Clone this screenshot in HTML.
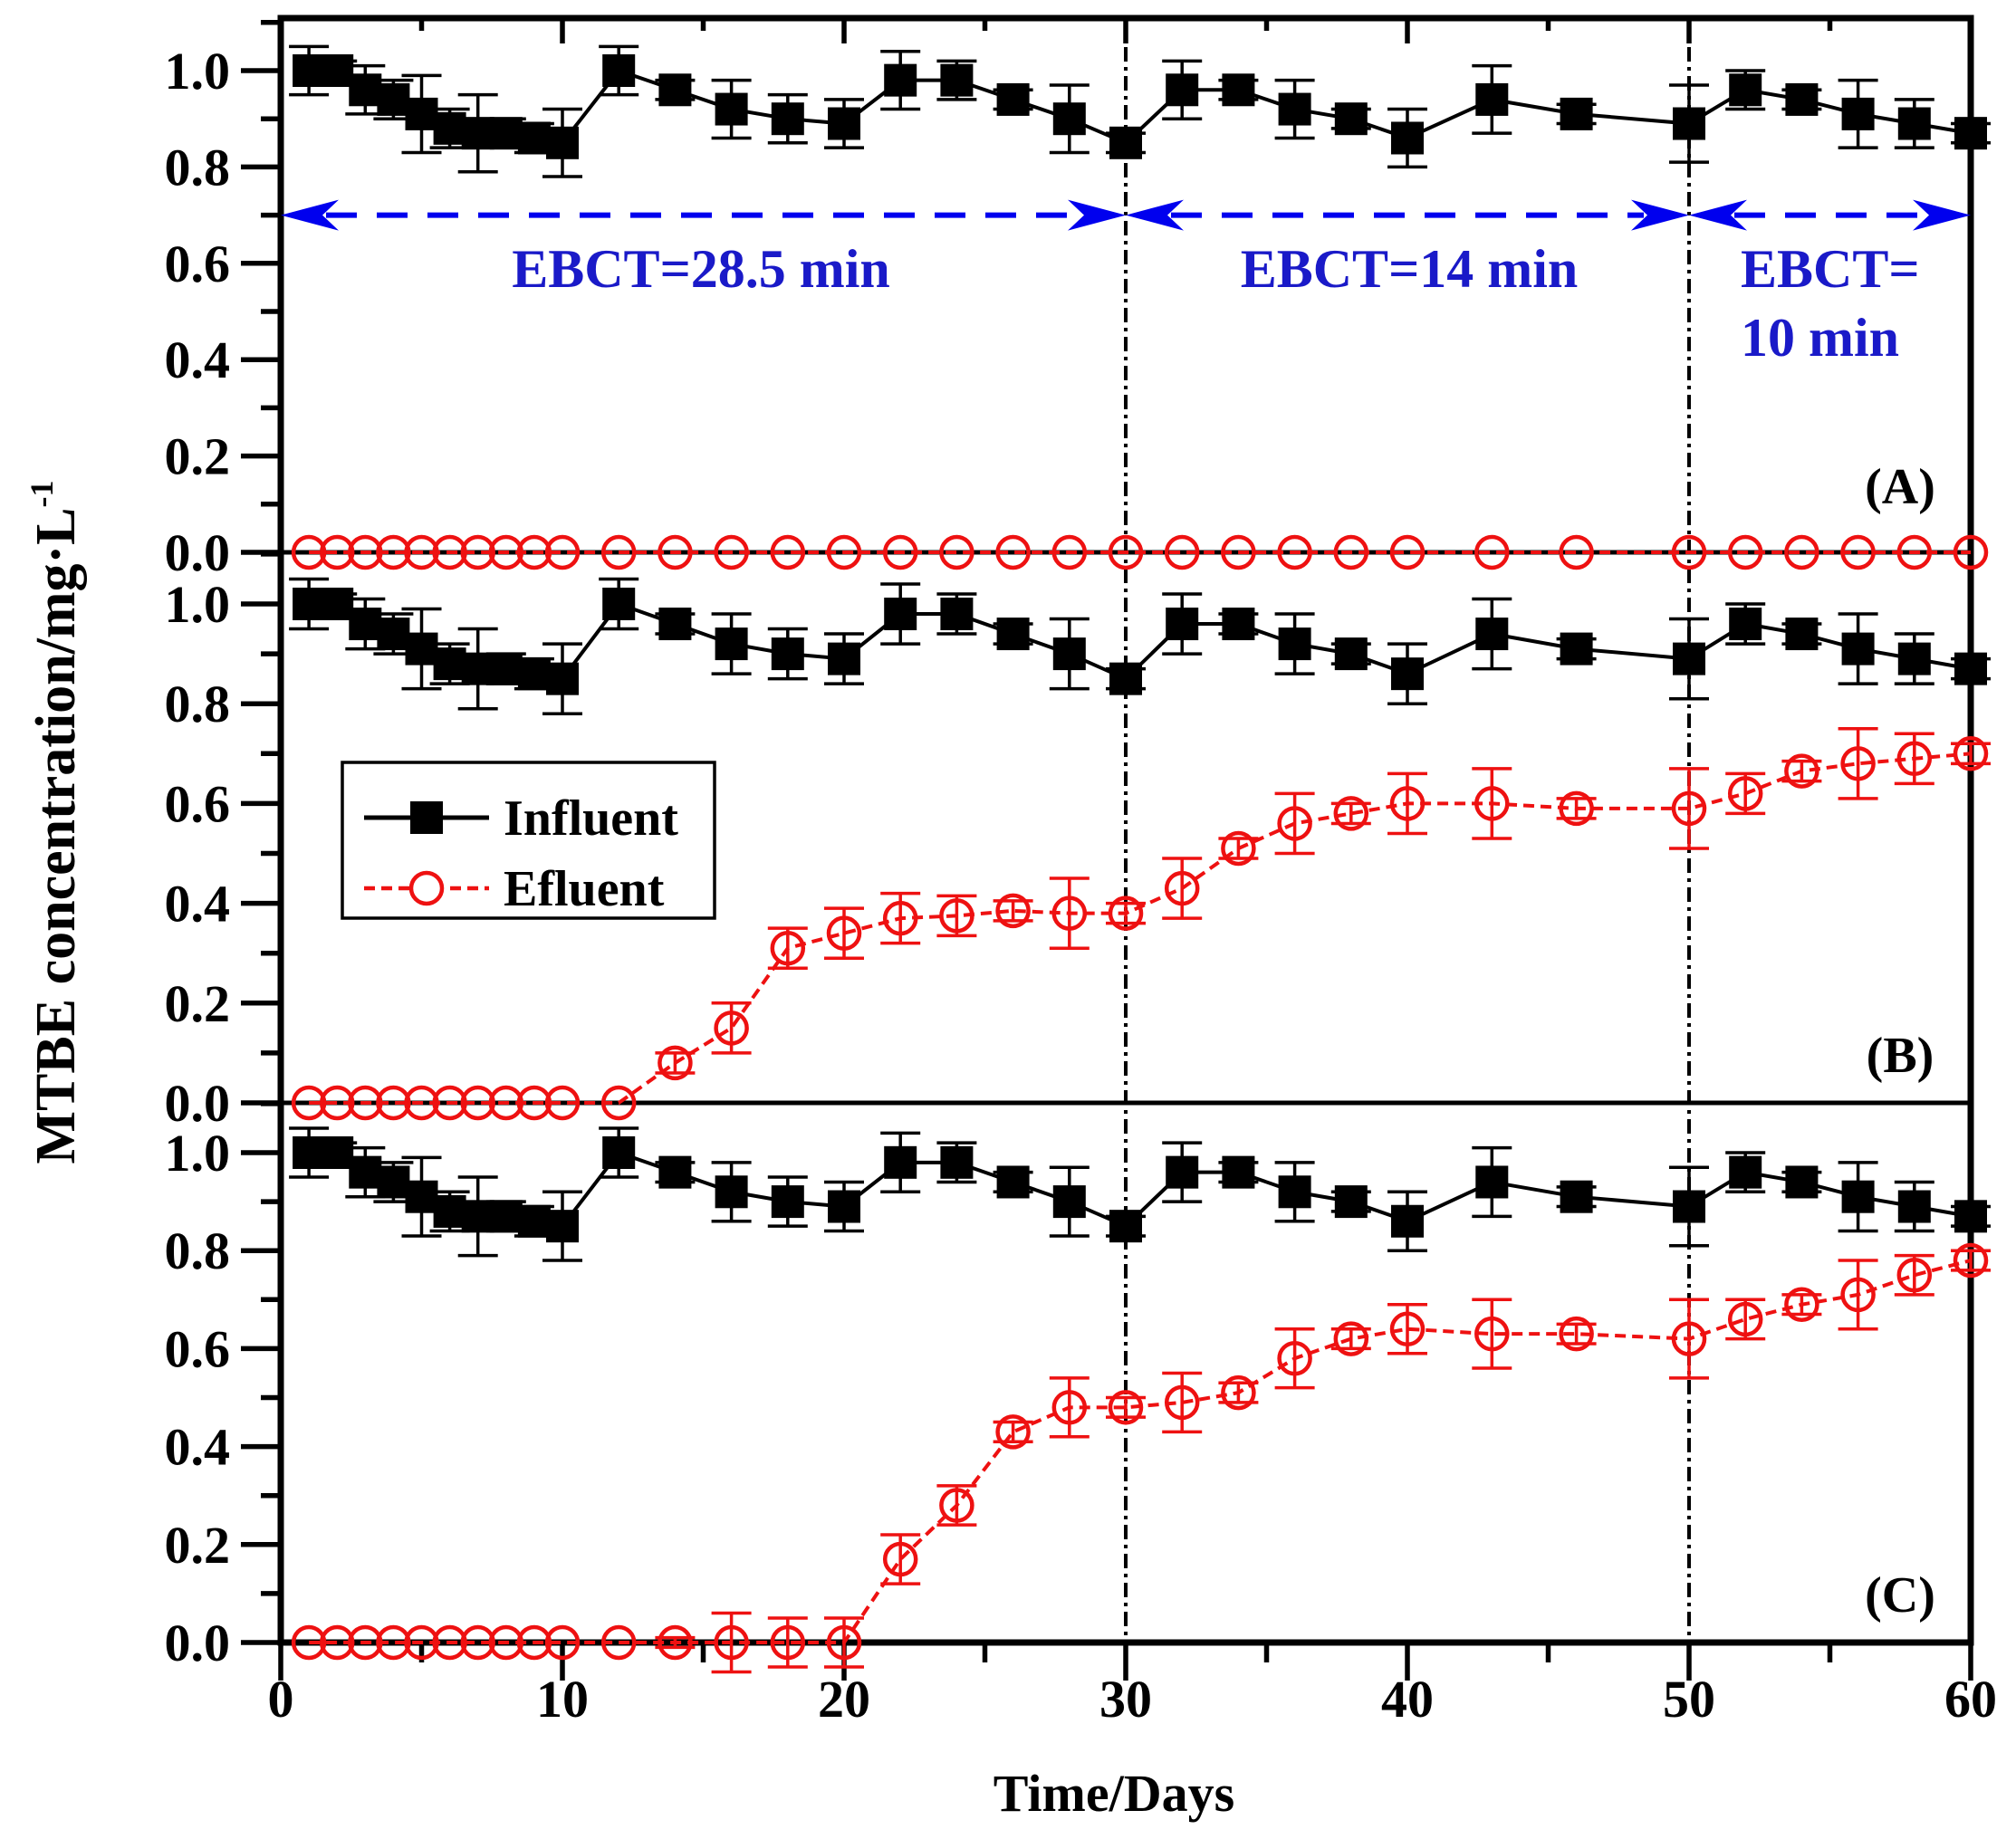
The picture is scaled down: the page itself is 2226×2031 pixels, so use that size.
<!DOCTYPE html>
<html><head><meta charset="utf-8">
<style>
html,body{margin:0;padding:0;background:#fff;}
svg{display:block;font-family:"Liberation Serif",serif;font-weight:bold;}
</style></head>
<body>
<svg id="chart" width="2226" height="2031" viewBox="0 0 2226 2031" xmlns="http://www.w3.org/2000/svg">
<rect width="2226" height="2031" fill="#fff"/>
<g id="layer"></g>
<text x="1230" y="2000" font-size="58" text-anchor="middle">Time/Days</text>
<text transform="translate(82,908) rotate(-90)" font-size="62" text-anchor="middle">MTBE concentration/mg·L<tspan dy="-24" font-size="36">-1</tspan></text>
</svg>
<script>
const days = [1,2,3,4,5,6,7,8,9,10,12,14,16,18,20,22,24,26,28,30,32,34,36,38,40,43,46,50,52,54,56,58,60];
const influent = [1.0,1.0,0.96,0.94,0.91,0.88,0.87,0.87,0.86,0.85,1.0,0.96,0.92,0.90,0.89,0.98,0.98,0.94,0.90,0.85,0.96,0.96,0.92,0.90,0.86,0.94,0.91,0.89,0.96,0.94,0.91,0.89,0.87];
const influentErr = [0.05,0.02,0.05,0.04,0.08,0.04,0.08,0.03,0.03,0.07,0.05,0.02,0.06,0.05,0.05,0.06,0.04,0.02,0.07,0.02,0.06,0.02,0.06,0.02,0.06,0.07,0.02,0.08,0.04,0.02,0.07,0.05,0.02];
const effluentA = [0,0,0,0,0,0,0,0,0,0,0,0,0,0,0,0,0,0,0,0,0,0,0,0,0,0,0,0,0,0,0,0,0];
const effluentAErr = [0,0,0,0,0,0,0,0,0,0,0,0,0,0,0,0,0,0,0,0,0,0,0,0,0,0,0,0,0,0,0,0,0];
const effluentB = [0,0,0,0,0,0,0,0,0,0,0,0.08,0.15,0.31,0.34,0.37,0.375,0.385,0.38,0.38,0.43,0.51,0.56,0.58,0.60,0.60,0.59,0.59,0.62,0.665,0.68,0.69,0.70];
const effluentBErr = [0,0,0,0,0,0,0,0,0,0,0,0.02,0.05,0.04,0.05,0.05,0.04,0.02,0.07,0.02,0.06,0.02,0.06,0.02,0.06,0.07,0.02,0.08,0.04,0.02,0.07,0.05,0.02];
const effluentC = [0,0,0,0,0,0,0,0,0,0,0,0,0,0,0,0.17,0.28,0.43,0.48,0.48,0.49,0.51,0.58,0.62,0.64,0.63,0.63,0.62,0.66,0.69,0.71,0.75,0.78];
const effluentCErr = [0,0,0,0,0,0,0,0,0,0,0,0.01,0.06,0.05,0.05,0.05,0.04,0.02,0.06,0.02,0.06,0.02,0.06,0.02,0.05,0.07,0.02,0.08,0.04,0.02,0.07,0.04,0.02];
const yTickLabels = ["0.0","0.2","0.4","0.6","0.8","1.0"];
const xTickLabels = ["0","10","20","30","40","50","60"];
const phaseBoundaries = [30,50];

const NS="http://www.w3.org/2000/svg";
const layer=document.getElementById('layer');
function mk(tag,attrs,parent){const e=document.createElementNS(NS,tag);for(const k in attrs)e.setAttribute(k,attrs[k]);(parent||layer).appendChild(e);return e;}
const X0=310,X1=2176;
function xs(d){return X0+(X1-X0)*d/60;}
const panels=[
 {id:'a',y0:610,y1:78,eff:effluentA,err:effluentAErr,label:'(A)',ly:556},
 {id:'b',y0:1218,y1:667,eff:effluentB,err:effluentBErr,label:'(B)',ly:1184},
 {id:'c',y0:1814,y1:1273,eff:effluentC,err:effluentCErr,label:'(C)',ly:1780}
];
const TOP=20,BOT=1814;

panels.forEach(p=>{
  const ys=v=>p.y0+(p.y1-p.y0)*v;
  for(let i=0;i<=11;i++){
    const v=i*0.1;
    const t=mk('line',{x1:X0-(i%2?22:44),x2:X0,y1:ys(v),y2:ys(v),stroke:'#000','stroke-width':5.5});
    
    
  }
  yTickLabels.forEach((lab,i)=>{
    const t=mk('text',{x:X0-56,y:ys(i*0.2)+20,'font-size':58,'text-anchor':'end'});
    t.textContent=lab;
    
    
  });
  const bl=mk('line',{x1:X0,x2:X1,y1:p.y0,y2:p.y0,stroke:'#000','stroke-width':5});
  
  
  const lt=mk('text',{x:2098,y:p.ly,'font-size':56,'text-anchor':'middle'});
  lt.textContent=p.label;
  
  
});

const fr=mk('rect',{x:X0,y:TOP,width:X1-X0,height:BOT-TOP,fill:'none',stroke:'#000','stroke-width':7});



for(let d=0;d<=60;d+=5){
  const b=mk('line',{x1:xs(d),x2:xs(d),y1:BOT,y2:BOT+(d%10?22:42),stroke:'#000','stroke-width':5.5});
  
  
  const t=mk('line',{x1:xs(d),x2:xs(d),y1:TOP,y2:TOP+(d%10?14:28),stroke:'#000','stroke-width':5.5});
  
  
}
xTickLabels.forEach(lab=>{
  const t=mk('text',{x:xs(+lab),y:1896,'font-size':58,'text-anchor':'middle'});
  t.textContent=lab;
  
  
});

phaseBoundaries.forEach(d=>{
  const l=mk('line',{x1:xs(d),x2:xs(d),y1:TOP,y2:BOT,stroke:'#000','stroke-width':4,'stroke-dasharray':'16,6,4,6'});
  
  
});

const arrowY=panels[0].y0+(panels[0].y1-panels[0].y0)*0.7;
function head(x,dir){
  const h=mk('path',{d:`M${x},${arrowY} L${x-dir*64},${arrowY-17} L${x-dir*46},${arrowY} L${x-dir*64},${arrowY+17} Z`,fill:'#0000ee'});
  
  
}
[[0,30],[30,50],[50,60]].forEach(([a,b])=>{
  const l=mk('line',{x1:xs(a)+50,x2:xs(b)-50,y1:arrowY,y2:arrowY,stroke:'#0000ee','stroke-width':6,'stroke-dasharray':'34,22'});
  
  
  head(xs(a),-1);head(xs(b),1);
});
function blueText(x,y,s,anchor){
  const t=mk('text',{x:x,y:y,'font-size':60,fill:'#1a1ac8','text-anchor':anchor});
  t.textContent=s;
  
  
}
blueText(774,317,'EBCT=28.5 min','middle');
blueText(1556,317,'EBCT=14 min','middle');
blueText(1922,317,'EBCT=','start');
blueText(1922,393,'10 min','start');

function series(p,vals,errs,color,dash,kind){
  const ys=v=>p.y0+(p.y1-p.y0)*v;
  const g=mk('g',{});
  
  
  const pts=days.map((d,i)=>xs(d)+','+ys(vals[i])).join(' ');
  mk('polyline',{points:pts,fill:'none',stroke:color,'stroke-width':4,'stroke-dasharray':dash},g);
  days.forEach((d,i)=>{
    const e=errs[i]; if(e>0){
      const x=xs(d),ya=ys(vals[i]+e),yb=ys(vals[i]-e);
      mk('path',{d:`M${x},${ya}V${yb}M${x-22},${ya}H${x+22}M${x-22},${yb}H${x+22}`,stroke:color,'stroke-width':3.5,fill:'none'},g);
    }
  });
  days.forEach((d,i)=>{
    let m;
    if(kind==='influent') m=mk('rect',{x:xs(d)-18,y:ys(vals[i])-18,width:36,height:36,fill:'#000'},g);
    else m=mk('circle',{cx:xs(d),cy:ys(vals[i]),r:17,fill:'none',stroke:color,'stroke-width':4.5},g);
    
    
  });
}
panels.forEach(p=>{
  series(p,influent,influentErr,'#000','none','influent');
  series(p,p.eff,p.err,'#ee1111','12,7','effluent');
});

const lg=mk('g',{});


mk('rect',{x:378,y:842,width:411,height:172,fill:'#fff',stroke:'#000','stroke-width':3.5},lg);
mk('line',{x1:402,x2:540,y1:903,y2:903,stroke:'#000','stroke-width':5},lg);
mk('rect',{x:453,y:885,width:36,height:36,fill:'#000'},lg);
const t1=mk('text',{x:556,y:922,'font-size':56},lg);t1.textContent='Influent';


mk('line',{x1:402,x2:540,y1:981,y2:981,stroke:'#ee1111','stroke-width':4.5,'stroke-dasharray':'12,7'},lg);
mk('circle',{cx:471,cy:981,r:17,fill:'#fff',stroke:'#ee1111','stroke-width':4.5},lg);
const t2=mk('text',{x:556,y:1000,'font-size':56},lg);t2.textContent='Efluent';


</script>
</body></html>
